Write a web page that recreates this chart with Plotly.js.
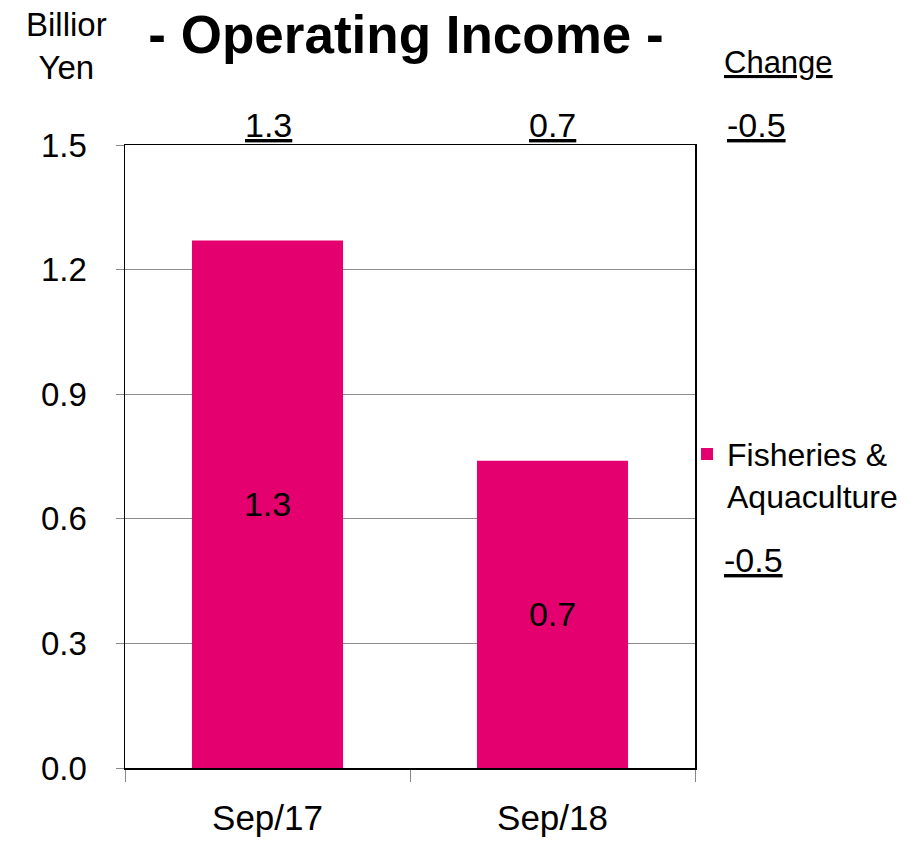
<!DOCTYPE html>
<html>
<head>
<meta charset="utf-8">
<script src="https://cdn.plot.ly/plotly-3.0.1.min.js"></script>
<style>html,body{margin:0;padding:0;background:#fff;}#chart{width:922px;height:842px;}</style>
</head>
<body>
<div id="chart"></div>
<script>
const categories = ['Sep/17', 'Sep/18'];
const seriesName = 'Fisheries &<br>Aquaculture';
const values = [1.27, 0.74];
const valueLabels = ['1.3', '0.7'];
const changeLabel = '-0.5';
const yTicks = [0.0, 0.3, 0.6, 0.9, 1.2, 1.5];
const yTickLabels = ['0.0', '0.3', '0.6', '0.9', '1.2', '1.5'];

const FONT = 'Liberation Sans, Arial, sans-serif';
const PINK = '#E4006E';

const trace = {
  type: 'bar',
  x: categories,
  y: values,
  name: seriesName,
  marker: {color: PINK},
  text: valueLabels,
  textposition: 'inside',
  insidetextanchor: 'middle',
  textfont: {family: FONT, size: 34, color: '#000'},
  cliponaxis: false,
  hoverinfo: 'skip'
};

const layout = {
  width: 922, height: 842,
  margin: {l: 125, r: 227, t: 145, b: 74},
  paper_bgcolor: '#fff', plot_bgcolor: '#fff',
  showlegend: true,
  bargap: 0.47,
  font: {family: FONT, color: '#000'},
  title: {text: '<b>- Operating Income -</b>', font: {family: FONT, size: 53, color: '#000'},
          x: 406 / 922, xref: 'container', xanchor: 'center',
          y: 1 - 34 / 842, yref: 'container', yanchor: 'middle'},
  xaxis: {
    type: 'category', showline: true, linecolor: '#000', linewidth: 1.5, mirror: true,
    ticks: 'outside', tickson: 'boundaries', ticklen: 12, tickcolor: '#888', tickwidth: 1,
    tickfont: {family: FONT, size: 35, color: '#000'}, ticklabelstandoff: 18,
    showgrid: false, fixedrange: true
  },
  yaxis: {
    range: [0, 1.5], tickvals: yTicks, ticktext: yTickLabels,
    showline: true, linecolor: '#000', linewidth: 1.5, mirror: true,
    ticks: 'outside', ticklen: 8, tickcolor: '#888', tickwidth: 1,
    tickfont: {family: FONT, size: 33, color: '#000'}, ticklabelstandoff: 22,
    showgrid: true, gridcolor: '#8c8c8c', gridwidth: 1, zeroline: false, fixedrange: true
  },
  legend: {
    x: 0.986, xanchor: 'left', y: 0.47, yanchor: 'middle', valign: 'top',
    font: {family: FONT, size: 32, color: '#000'},
    bgcolor: 'rgba(0,0,0,0)', itemwidth: 30, tracegroupgap: 0
  },
  annotations: []
};

function ann(text, xPx, yPx, size) {
  return {text: text, xref: 'paper', yref: 'paper',
    x: (xPx - 125) / 570, y: (768 - yPx) / 623,
    xanchor: 'center', yanchor: 'middle', showarrow: false,
    font: {family: FONT, size: size, color: '#000'}};
}
layout.annotations.push(ann('Billior<br>Yen', 66, 46, 33));
layout.annotations.push(ann('<u>Change</u>', 778, 62, 31));
layout.annotations.push(ann('<u>' + valueLabels[0] + '</u>', 268, 125, 34));
layout.annotations.push(ann('<u>' + valueLabels[1] + '</u>', 552, 125, 34));
layout.annotations.push(ann('<u>' + changeLabel + '</u>', 757, 125, 34));
layout.annotations.push(ann('<u>' + changeLabel + '</u>', 753, 560, 34));

Plotly.newPlot('chart', [trace], layout, {staticPlot: true, displayModeBar: false});
</script>
</body>
</html>
